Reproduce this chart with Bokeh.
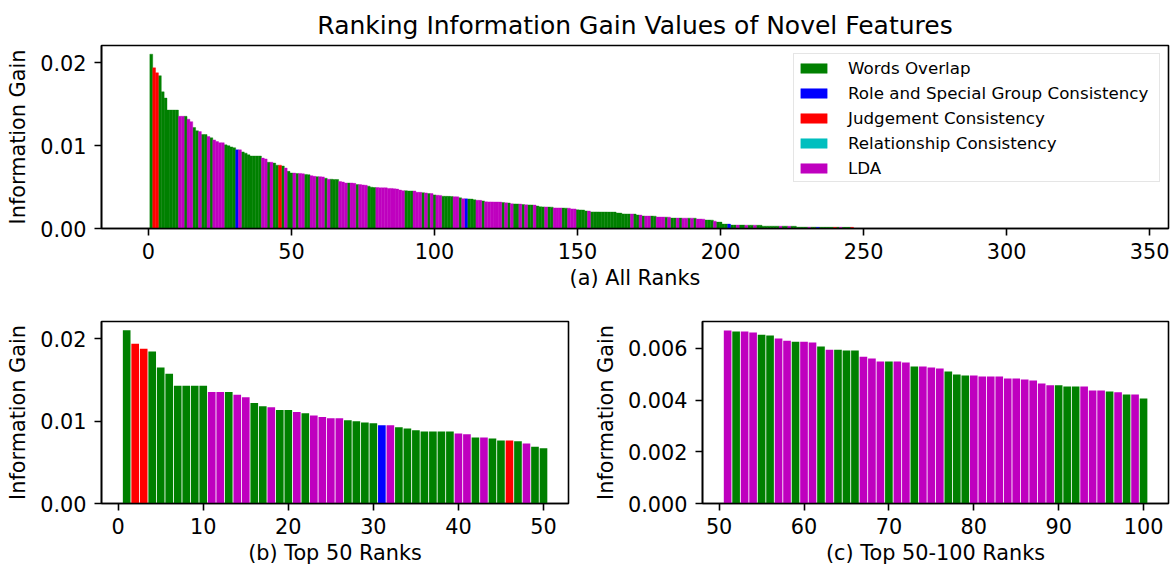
from bokeh.plotting import figure
from bokeh.models import ColumnDataSource, FixedTicker, NumeralTickFormatter, Range1d, Legend, LegendItem
from bokeh.layouts import column, row
from bokeh.embed import file_html
from bokeh.resources import INLINE

FONT = "DejaVu Sans"

# ---------------- data ----------------
category_codes = ["W", "R", "J", "C", "L"]
category_labels = ["Words Overlap", "Role and Special Group Consistency",
                   "Judgement Consistency", "Relationship Consistency", "LDA"]
category_colors = ["#008000", "#0000ff", "#ff0000", "#00bfbf", "#bf00bf"]

gain_001_050 = [0.02105, 0.01940, 0.01880, 0.01845, 0.01650, 0.01575, 0.01430, 0.01430, 0.01430, 0.01430,
                0.01355, 0.01355, 0.01355, 0.01320, 0.01290, 0.01220, 0.01180, 0.01170, 0.01135, 0.01135,
                0.01110, 0.01095, 0.01070, 0.01050, 0.01035, 0.01035, 0.01010, 0.01000, 0.00985, 0.00975,
                0.00950, 0.00950, 0.00925, 0.00910, 0.00890, 0.00875, 0.00875, 0.00875, 0.00875, 0.00850,
                0.00840, 0.00800, 0.00800, 0.00790, 0.00765, 0.00765, 0.00755, 0.00730, 0.00690, 0.00670]
cat_001_050 = list("WJJWWWWWWW" "LLWLLWWLWW" "LWLLLLWWWW" "RLWWWWWWWL" "LWLWWJWLWW")

gain_051_100 = [0.00669, 0.00665, 0.00665, 0.00661, 0.00653, 0.00650, 0.00638, 0.00630, 0.00626, 0.00626,
                0.00623, 0.00607, 0.00595, 0.00595, 0.00592, 0.00592, 0.00568, 0.00561, 0.00549, 0.00549,
                0.00549, 0.00545, 0.00530, 0.00530, 0.00526, 0.00522, 0.00511, 0.00499, 0.00495, 0.00495,
                0.00491, 0.00491, 0.00491, 0.00484, 0.00484, 0.00480, 0.00476, 0.00464, 0.00457, 0.00457,
                0.00453, 0.00453, 0.00453, 0.00437, 0.00437, 0.00433, 0.00430, 0.00422, 0.00422, 0.00406]
cat_051_100 = list("LWLLWWLLWL" "LWLWWWLLLW" "LLWLLLWWWL" "LLLLLLLLLW" "WWLLLWLWLW")

gain_101_150 = [0.00402, 0.00400, 0.00390, 0.00389, 0.00388, 0.00387, 0.00384, 0.00382, 0.00370, 0.00360,
                0.00358, 0.00357, 0.00355, 0.00346, 0.00341, 0.00340, 0.00333, 0.00322, 0.00321, 0.00321,
                0.00320, 0.00320, 0.00319, 0.00314, 0.00310, 0.00308, 0.00298, 0.00297, 0.00296, 0.00295,
                0.00289, 0.00286, 0.00285, 0.00284, 0.00283, 0.00272, 0.00262, 0.00261, 0.00260, 0.00259,
                0.00258, 0.00249, 0.00248, 0.00248, 0.00247, 0.00246, 0.00245, 0.00237, 0.00236, 0.00225]
cat_101_150 = list("LLWWWWLLWL" "RWWWLLWLLL" "LLLWLWLWWL" "WLWWLWWWLW" "WLLLWWLLLW")

gain_151_200 = [0.00224, 0.00223, 0.00212, 0.00211, 0.00200, 0.00200, 0.00200, 0.00199, 0.00199, 0.00199,
                0.00198, 0.00198, 0.00198, 0.00187, 0.00186, 0.00176, 0.00175, 0.00175, 0.00175, 0.00174,
                0.00163, 0.00162, 0.00151, 0.00150, 0.00150, 0.00150, 0.00149, 0.00138, 0.00138, 0.00138,
                0.00137, 0.00137, 0.00126, 0.00126, 0.00126, 0.00126, 0.00125, 0.00125, 0.00125, 0.00125,
                0.00124, 0.00114, 0.00114, 0.00113, 0.00102, 0.00102, 0.00101, 0.00089, 0.00077, 0.00077]
cat_151_200 = list("WWWLWWWWWW" "WWWWWWWWLW" "WLWLLWWLLL" "WLWWLWLLWL" "WLLLWWWLWW")

gain_201_246 = [0.00053, 0.00053, 0.00053, 0.00041, 0.00041, 0.00041, 0.00041, 0.00041, 0.00040, 0.00040,
                0.00040, 0.00040, 0.00039, 0.00039, 0.00028, 0.00028, 0.00028, 0.00028, 0.00028, 0.00028,
                0.00028, 0.00028, 0.00028, 0.00027, 0.00027, 0.00027, 0.00016, 0.00016, 0.00016, 0.00016,
                0.00016, 0.00016, 0.00016, 0.00015, 0.00015, 0.00015, 0.00015, 0.00015, 0.00015, 0.00015,
                0.00015, 0.00015, 0.00014, 0.00014, 0.00014, 0.00014]
cat_201_246 = list("WWRWWLWWLW" "WLWWWWWWWW" "LWWLWWWWWW" "LWWRWWWWWJ" "WLWWWJ")

x_ticks_all = [0, 50, 100, 150, 200, 250, 300, 350]
x_ticks_top50 = [0, 10, 20, 30, 40, 50]
x_ticks_50_100 = [50, 60, 70, 80, 90, 100]
y_ticks_gain = [0.0, 0.01, 0.02]
y_ticks_gain_fine = [0.0, 0.002, 0.004, 0.006]

gains = gain_001_050 + gain_051_100 + gain_101_150 + gain_151_200 + gain_201_246
cats = cat_001_050 + cat_051_100 + cat_101_150 + cat_151_200 + cat_201_246
ranks = list(range(1, len(gains) + 1))

TICK_FONT = "20.8px"


# ---------------- helpers ----------------
def make_fig(width, height, xr, yr, mbl, mbr, mbt, mbb):
    p = figure(width=width, height=height, x_range=Range1d(*xr), y_range=Range1d(*yr),
               output_backend="svg", toolbar_location=None,
               min_border_left=mbl, min_border_right=mbr, min_border_top=mbt, min_border_bottom=mbb)
    p.xgrid.visible = False
    p.ygrid.visible = False
    p.outline_line_color = "black"
    p.outline_line_width = 1.6
    p.outline_line_alpha = 1.0
    p.background_fill_color = "white"
    p.border_fill_color = "white"
    for ax in (p.xaxis[0], p.yaxis[0]):
        ax.axis_line_width = 1.6
        ax.axis_line_color = "black"
        ax.major_tick_line_width = 1.6
        ax.major_tick_line_color = "black"
        ax.major_tick_out = 7
        ax.major_tick_in = 0
        ax.minor_tick_out = 0
        ax.minor_tick_in = 0
        ax.major_label_text_font = FONT
        ax.major_label_text_font_size = TICK_FONT
        ax.major_label_text_color = "black"
        ax.axis_label_text_font = FONT
        ax.axis_label_text_font_size = TICK_FONT
        ax.axis_label_text_font_style = "normal"
        ax.axis_label_text_color = "black"
    p.xaxis[0].major_label_standoff = 7
    p.xaxis[0].axis_label_standoff = 4
    p.yaxis[0].major_label_standoff = 8
    p.yaxis[0].axis_label_standoff = 7
    return p


def draw_bars(p, lo, hi, width, seam_line=False):
    items = []
    for code, label, color in zip(category_codes, category_labels, category_colors):
        xs = [r for r, c in zip(ranks, cats) if c == code and lo <= r <= hi]
        ts = [g for r, g, c in zip(ranks, gains, cats) if c == code and lo <= r <= hi]
        if not xs:
            # category without any ranked bar: a not-drawn row keeps its legend swatch
            xs, ts = [float("nan")], [float("nan")]
        src = ColumnDataSource(data=dict(x=xs, top=ts))
        if seam_line:
            rend = p.vbar(x="x", top="top", bottom=0, width=width, source=src,
                          fill_color=color, line_color=color, line_width=0.4)
        else:
            rend = p.vbar(x="x", top="top", bottom=0, width=width, source=src,
                          fill_color=color, line_color=None)
        items.append(LegendItem(label=label, renderers=[rend]))
    return items


# ---------------- top: all ranks ----------------
top = make_fig(1170, 294, (-16.4, 356.6), (0, 0.0221), 101, 2, 45, 66)
top.title.text = "Ranking Information Gain Values of Novel Features"
top.title.align = "center"
top.title.text_font = FONT
top.title.text_font_size = "25px"
top.title.text_font_style = "normal"
top.title.text_color = "black"
top.title.standoff = 12
top.xaxis[0].ticker = FixedTicker(ticks=x_ticks_all)
top.yaxis[0].ticker = FixedTicker(ticks=y_ticks_gain)
top.yaxis[0].formatter = NumeralTickFormatter(format="0.00")
top.xaxis[0].axis_label = "(a) All Ranks"
top.yaxis[0].axis_label = "Information Gain"
legend_items = draw_bars(top, 1, len(ranks), 1.0, seam_line=True)
legend = Legend(items=legend_items, location="top_right", margin=8,
                padding=3, spacing=4, label_height=21, label_width=308,
                glyph_height=12, glyph_width=33,
                label_standoff=18, label_text_font=FONT, label_text_font_size="16.7px",
                label_text_color="black",
                border_line_color="#cccccc", border_line_width=1.5,
                background_fill_color="white", background_fill_alpha=0.8)
top.add_layout(legend)

# ---------------- bottom-left: top 50 ----------------
bl = make_fig(590, 274, (-1.96, 52.94), (0, 0.0221), 101, 22, 27, 65)
bl.xaxis[0].ticker = FixedTicker(ticks=x_ticks_top50)
bl.yaxis[0].ticker = FixedTicker(ticks=y_ticks_gain)
bl.yaxis[0].formatter = NumeralTickFormatter(format="0.00")
bl.xaxis[0].axis_label = "(b) Top 50 Ranks"
bl.yaxis[0].axis_label = "Information Gain"
draw_bars(bl, 1, 50, 0.9)

# ---------------- bottom-right: ranks 51-100 ----------------
br = make_fig(580, 274, (48.04, 102.94), (0, 0.00704), 111, 2, 27, 65)
br.xaxis[0].ticker = FixedTicker(ticks=x_ticks_50_100)
br.yaxis[0].ticker = FixedTicker(ticks=y_ticks_gain_fine)
br.yaxis[0].formatter = NumeralTickFormatter(format="0.000")
br.xaxis[0].axis_label = "(c) Top 50-100 Ranks"
br.yaxis[0].axis_label = "Information Gain"
draw_bars(br, 51, 100, 0.9)

layout = column(top, row(bl, br))
open("out.html", "w").write(file_html(layout, INLINE))
